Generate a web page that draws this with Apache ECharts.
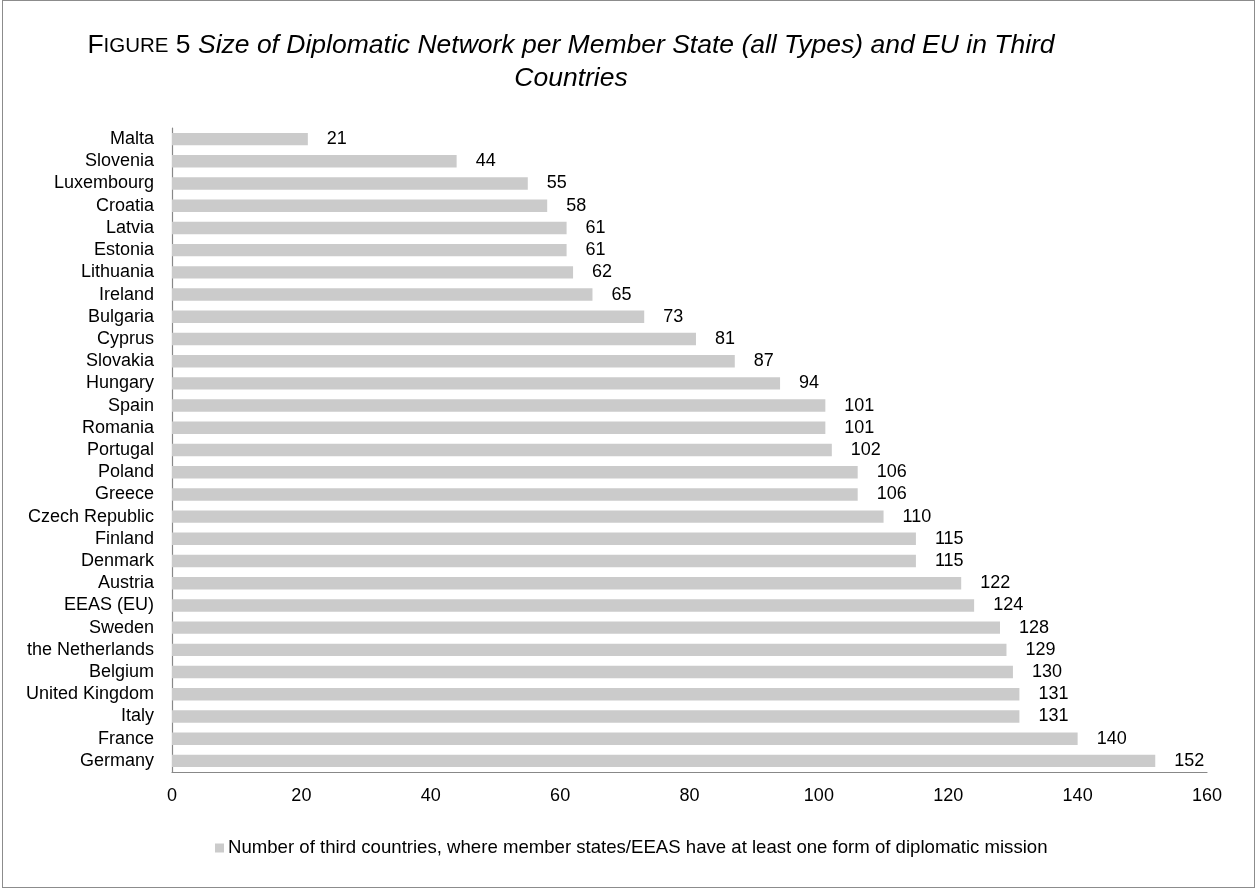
<!DOCTYPE html>
<html>
<head>
<meta charset="utf-8">
<script src="https://cdn.jsdelivr.net/npm/echarts@6/dist/echarts.min.js"></script>
<style>
  html, body { margin: 0; padding: 0; background: #fff; }
  #frame { position: absolute; left: 2px; top: 0; width: 1253px; height: 888px; box-sizing: border-box; border: 1px solid #8c8c8c; }
  #chart { position: absolute; left: 0; top: 0; width: 1256px; height: 888px; }
</style>
</head>
<body>
<div id="frame"></div>
<div id="chart"></div>
<script>
// Countries, ordered from smallest to largest network
const countries = [
  'Malta', 'Slovenia', 'Luxembourg', 'Croatia', 'Latvia', 'Estonia', 'Lithuania',
  'Ireland', 'Bulgaria', 'Cyprus', 'Slovakia', 'Hungary', 'Spain', 'Romania',
  'Portugal', 'Poland', 'Greece', 'Czech Republic', 'Finland', 'Denmark', 'Austria',
  'EEAS (EU)', 'Sweden', 'the Netherlands', 'Belgium', 'United Kingdom', 'Italy',
  'France', 'Germany'
];
// Number of third countries with at least one diplomatic mission
const missions = [
  21, 44, 55, 58, 61, 61, 62, 65, 73, 81, 87, 94, 101, 101, 102, 106, 106, 110,
  115, 115, 122, 124, 128, 129, 130, 131, 131, 140, 152
];
const seriesName = 'Number of third countries, where member states/EEAS have at least one form of diplomatic mission';
const xTicks = [0, 20, 40, 60, 80, 100, 120, 140, 160];

const font = '"Liberation Sans", Arial, sans-serif';
const chart = echarts.init(document.getElementById('chart'));
chart.setOption({
  animation: false,
  textStyle: { fontFamily: font, color: '#000' },
  title: [
    {
      left: 571, top: 31, textAlign: 'center', padding: 0,
      text: '{a|F}{b|IGURE}{a| 5 }{i|Size of Diplomatic Network per Member State (all Types) and EU in Third}',
      textStyle: {
        fontWeight: 'normal',
        rich: {
          a: { fontFamily: font, fontSize: 26.5, fontWeight: 'normal', color: '#000', lineHeight: 30 },
          b: { fontFamily: font, fontSize: 20.5, fontWeight: 'normal', color: '#000', lineHeight: 30 },
          i: { fontFamily: font, fontSize: 26.5, fontWeight: 'normal', fontStyle: 'italic', color: '#000', lineHeight: 30 }
        }
      }
    },
    {
      left: 571, top: 64, textAlign: 'center', padding: 0,
      text: 'Countries',
      textStyle: { fontFamily: font, fontSize: 26.5, fontStyle: 'italic', fontWeight: 'normal', color: '#000', lineHeight: 30 }
    }
  ],
  grid: { left: 172, right: 49, top: 128, bottom: 116, containLabel: false },
  legend: {
    top: 837, left: 215, padding: 0,
    itemWidth: 9, itemHeight: 9, itemGap: 5,
    icon: 'rect',
    textStyle: { fontFamily: font, fontSize: 18.6, color: '#000', lineHeight: 22, padding: [0, 0, 0, -1] },
    data: [seriesName]
  },
  xAxis: {
    type: 'value', min: 0, max: 160, interval: 20,
    axisLine: { show: true, lineStyle: { color: '#888', width: 1.2 } },
    axisTick: { show: false },
    splitLine: { show: false },
    axisLabel: {
      fontFamily: font, fontSize: 18, color: '#000', margin: 15,
      formatter: v => (xTicks.includes(v) ? String(v) : '')
    }
  },
  yAxis: {
    type: 'category', inverse: true, data: countries,
    axisLine: { show: true, lineStyle: { color: '#888', width: 1.2 } },
    axisTick: { show: false },
    axisLabel: { fontFamily: font, fontSize: 18, color: '#000', margin: 18, interval: 0 }
  },
  series: [{
    name: seriesName,
    type: 'bar',
    data: missions,
    barCategoryGap: '44%',
    itemStyle: { color: '#cbcbcb' },
    label: {
      show: true, position: 'right', distance: 19,
      fontFamily: font, fontSize: 18, color: '#000'
    }
  }]
});
</script>
</body>
</html>
